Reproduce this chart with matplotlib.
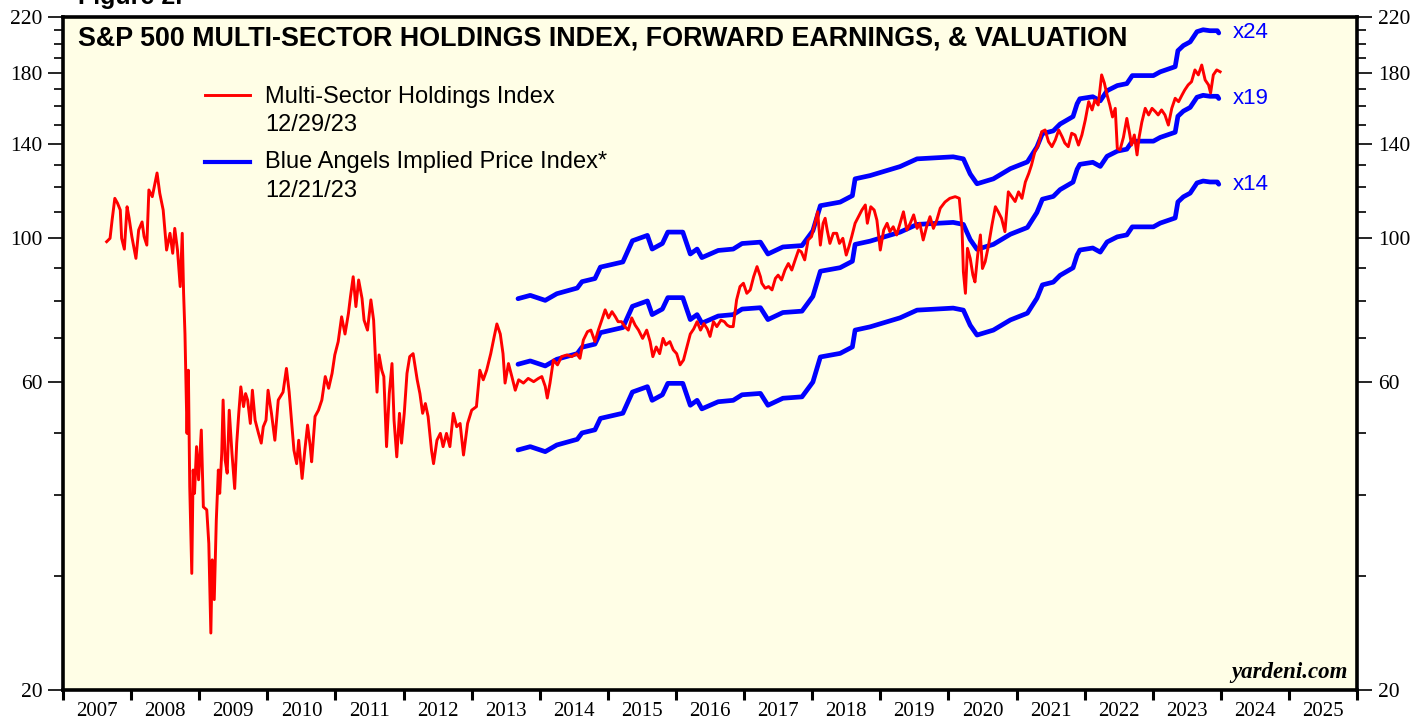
import matplotlib
matplotlib.use("Agg")
import matplotlib.pyplot as plt
from matplotlib.ticker import FixedLocator, FixedFormatter, NullFormatter

# Multi-Sector Holdings Index (red), by year
red_dates = [
    2007.64, 2007.69, 2007.72, 2007.76, 2007.80, 2007.84, 2007.86, 2007.90, 2007.94, 2007.97,
    2008.01, 2008.07, 2008.11, 2008.16, 2008.19, 2008.23, 2008.26, 2008.31, 2008.38, 2008.42,
    2008.47, 2008.52, 2008.57, 2008.61, 2008.64, 2008.68, 2008.72, 2008.75, 2008.77, 2008.79,
    2008.82, 2008.84, 2008.86, 2008.89, 2008.91, 2008.93, 2008.96, 2008.99,
    2009.03, 2009.06, 2009.11, 2009.14, 2009.17, 2009.19, 2009.22, 2009.25, 2009.28, 2009.30,
    2009.33, 2009.35, 2009.38, 2009.41, 2009.44, 2009.48, 2009.52, 2009.55, 2009.58, 2009.61,
    2009.65, 2009.68, 2009.71, 2009.75, 2009.78, 2009.82, 2009.87, 2009.91, 2009.94, 2009.98,
    2010.01, 2010.06, 2010.11, 2010.16, 2010.23, 2010.28, 2010.32, 2010.36, 2010.39, 2010.43,
    2010.46, 2010.51, 2010.55, 2010.59, 2010.63, 2010.65, 2010.70, 2010.75, 2010.80, 2010.85,
    2010.90, 2010.95, 2010.99,
    2011.04, 2011.09, 2011.14, 2011.19, 2011.22, 2011.26, 2011.30, 2011.34, 2011.39, 2011.42,
    2011.47, 2011.52, 2011.56, 2011.61, 2011.64, 2011.68, 2011.71, 2011.75, 2011.79, 2011.83,
    2011.86, 2011.90, 2011.94, 2011.97,
    2012.01, 2012.05, 2012.09, 2012.14, 2012.17, 2012.20, 2012.24, 2012.28, 2012.32, 2012.36,
    2012.41, 2012.44, 2012.49, 2012.54, 2012.58, 2012.63, 2012.68, 2012.73, 2012.78, 2012.83,
    2012.88, 2012.94,
    2013.00, 2013.07, 2013.12, 2013.17, 2013.22, 2013.28, 2013.33, 2013.37, 2013.42, 2013.46,
    2013.49, 2013.54, 2013.59, 2013.64, 2013.69, 2013.76, 2013.83, 2013.91, 2013.98,
    2014.03, 2014.08, 2014.11, 2014.15, 2014.20, 2014.26, 2014.32, 2014.40, 2014.47, 2014.54,
    2014.59, 2014.64, 2014.70, 2014.75, 2014.81, 2014.86, 2014.91, 2014.96,
    2015.01, 2015.06, 2015.11, 2015.15, 2015.20, 2015.25, 2015.30, 2015.35, 2015.40, 2015.45,
    2015.51, 2015.57, 2015.62, 2015.66, 2015.71, 2015.76, 2015.81, 2015.85, 2015.91, 2015.96,
    2016.01, 2016.06, 2016.11, 2016.16, 2016.21, 2016.26, 2016.31, 2016.36, 2016.41, 2016.46,
    2016.50, 2016.55, 2016.60, 2016.66, 2016.71, 2016.75, 2016.79, 2016.84, 2016.89, 2016.94,
    2016.99,
    2017.04, 2017.09, 2017.14, 2017.19, 2017.24, 2017.26, 2017.31, 2017.36, 2017.41, 2017.46,
    2017.50, 2017.55, 2017.60, 2017.65, 2017.70, 2017.75, 2017.80, 2017.84, 2017.89, 2017.94,
    2017.99,
    2018.04, 2018.08, 2018.12, 2018.16, 2018.19, 2018.22, 2018.26, 2018.31, 2018.36, 2018.40,
    2018.45, 2018.50, 2018.54, 2018.58, 2018.63, 2018.68, 2018.73, 2018.78, 2018.81, 2018.86,
    2018.91, 2018.95,
    2019.00, 2019.05, 2019.10, 2019.14, 2019.19, 2019.24, 2019.29, 2019.34, 2019.39, 2019.44,
    2019.49, 2019.54, 2019.58, 2019.63, 2019.68, 2019.73, 2019.78, 2019.83, 2019.88, 2019.95,
    2020.02, 2020.10, 2020.16, 2020.20, 2020.22, 2020.25, 2020.28, 2020.32, 2020.36, 2020.39,
    2020.43, 2020.47, 2020.50, 2020.54, 2020.59, 2020.64, 2020.69, 2020.73, 2020.78, 2020.83,
    2020.88, 2020.93, 2020.98,
    2021.03, 2021.08, 2021.13, 2021.18, 2021.22, 2021.27, 2021.32, 2021.37, 2021.42, 2021.47,
    2021.52, 2021.57, 2021.62, 2021.67, 2021.71, 2021.76, 2021.81, 2021.86, 2021.91, 2021.96,
    2022.01, 2022.06, 2022.11, 2022.15, 2022.20, 2022.25, 2022.29, 2022.33, 2022.37, 2022.41,
    2022.45, 2022.48, 2022.52, 2022.57, 2022.62, 2022.66, 2022.69, 2022.73, 2022.77, 2022.80,
    2022.84, 2022.89, 2022.94, 2022.99,
    2023.04, 2023.08, 2023.13, 2023.18, 2023.23, 2023.28, 2023.33, 2023.38, 2023.43, 2023.47,
    2023.52, 2023.57, 2023.62, 2023.67, 2023.72, 2023.77, 2023.82, 2023.85, 2023.89, 2023.94,
    2023.99,
]
red_values = [
    98.8, 100.0, 106.7, 115.3, 113.3, 110.6, 100.0, 96.2, 111.9, 107.4,
    100.6, 93.1, 103.0, 106.0, 100.6, 97.6, 118.8, 116.0, 126.2, 117.4,
    110.6, 95.9, 101.8, 94.8, 103.6, 95.9, 84.2, 101.8, 82.2, 71.1,
    49.9, 62.5, 41.3, 30.3, 43.8, 40.3, 47.6, 42.3,
    50.5, 38.4, 38.0, 33.7, 24.5, 31.8, 27.6, 36.6, 43.8, 40.3,
    46.5, 56.2, 45.4, 43.3, 54.2, 46.5, 41.0, 48.2, 53.6, 58.9,
    54.9, 57.5, 56.2, 51.7, 58.2, 52.3, 49.9, 48.2, 51.1, 52.3,
    58.2, 53.6, 48.7, 56.2, 57.8, 62.9, 57.8, 51.4, 47.0, 44.8,
    48.7, 42.5, 47.0, 51.4, 47.6, 45.1, 53.0, 54.2, 56.2, 61.1,
    58.6, 61.8, 66.0,
    69.2, 75.6, 71.1, 76.5, 81.2, 87.2, 78.4, 86.2, 80.7, 74.7,
    72.1, 80.3, 74.7, 57.8, 66.0, 62.5, 61.1, 47.6, 57.5, 64.0,
    52.3, 45.9, 53.6, 48.2,
    53.6, 61.8, 65.6, 66.3, 63.3, 60.4, 57.5, 53.6, 55.5, 53.0,
    47.0, 44.8, 48.7, 49.9, 47.6, 49.9, 47.6, 53.6, 51.1, 51.7,
    46.2, 51.7,
    54.2, 54.9, 62.5, 60.4, 62.5, 66.3, 70.4, 73.7, 71.1, 66.3,
    59.7, 64.0, 61.1, 58.2, 60.4, 59.7, 60.7, 60.0, 60.7,
    61.1, 59.0, 56.6, 59.7, 64.8, 63.7, 65.6, 66.0, 65.6, 66.3,
    65.2, 69.6, 71.7, 72.1, 69.2, 72.1, 74.7, 77.5,
    75.3, 77.0, 75.6, 74.3, 74.3, 73.0, 72.1, 75.3, 73.4, 72.1,
    70.0, 72.1, 69.2, 65.6, 67.9, 66.3, 70.0, 68.4, 69.2, 67.2,
    66.3, 63.7, 64.8, 67.9, 71.1, 72.4, 74.3, 72.1, 73.8, 72.4,
    70.5, 74.3, 73.0, 74.7, 74.3, 73.4, 73.0, 73.0, 80.3, 84.2,
    85.2,
    82.2, 83.2, 87.2, 90.4, 87.2, 85.2, 83.7, 84.2, 83.2, 86.7,
    87.7, 86.2, 89.3, 91.4, 89.3, 92.6, 95.9, 95.3, 92.6, 99.4,
    100.6,
    105.5, 109.9, 97.6, 105.5, 107.4, 103.0, 98.2, 101.8, 101.8, 98.2,
    100.0, 94.2, 97.1, 100.6, 105.5, 108.0, 110.6, 112.6, 105.5, 111.9,
    110.6, 106.7,
    95.9, 103.0, 105.5, 102.4, 104.2, 101.2, 105.5, 109.9, 103.0, 105.5,
    108.7, 103.6, 105.5, 99.4, 104.2, 108.0, 103.6, 106.7, 111.3, 113.8,
    115.3, 116.0, 115.3, 103.6, 88.8, 82.2, 96.5, 93.1, 87.7, 85.6,
    94.2, 101.2, 89.8, 92.0, 97.6, 104.9, 111.9, 110.0, 107.4, 102.4,
    118.0, 116.0, 114.0,
    118.0, 115.3, 122.2, 126.0, 129.8, 136.2, 139.4, 146.2, 147.1, 141.1,
    138.6, 142.0, 147.1, 143.6, 140.4, 138.6, 145.4, 144.5, 139.4, 144.5,
    152.4, 162.7, 158.0, 163.7, 160.8, 179.0, 173.9, 166.6, 160.8, 154.1,
    158.9, 137.8, 137.0, 143.3, 153.3, 145.4, 139.4, 144.5, 134.6, 143.3,
    151.2, 158.9, 155.2, 158.9,
    157.0, 155.2, 158.0, 155.2, 149.7, 158.9, 164.7, 162.7, 166.6, 169.6,
    172.7, 174.7, 182.2, 179.0, 185.4, 175.8, 172.7, 167.8, 179.0, 182.2,
    181.0,
]

# forward earnings behind the Blue Angels lines (price = earnings x multiple)
eps_dates = [
    2013.68, 2013.86, 2014.08, 2014.25, 2014.55, 2014.62, 2014.81, 2014.89,
    2015.22, 2015.36, 2015.58, 2015.65, 2015.80, 2015.88,
    2016.10, 2016.21, 2016.31, 2016.38, 2016.62, 2016.84, 2016.97,
    2017.24, 2017.35, 2017.57, 2017.85,
    2018.01, 2018.12, 2018.41, 2018.59, 2018.63, 2018.85,
    2019.29, 2019.54,
    2020.07, 2020.22, 2020.32, 2020.42, 2020.66, 2020.91,
    2021.16, 2021.30, 2021.38, 2021.54, 2021.64, 2021.83, 2021.89, 2021.93,
    2022.12, 2022.23, 2022.33, 2022.48, 2022.62, 2022.70,
    2023.01, 2023.11, 2023.33, 2023.37, 2023.45, 2023.55, 2023.65, 2023.74,
    2023.84, 2023.95, 2023.97,
]
eps_values = [
    3.36, 3.40, 3.34, 3.42, 3.49, 3.57, 3.61, 3.76,
    3.83, 4.13, 4.21, 4.01, 4.09, 4.26,
    4.26, 3.94, 4.01, 3.89, 3.99, 4.01, 4.09,
    4.11, 3.94, 4.04, 4.06,
    4.28, 4.68, 4.74, 4.85, 5.15, 5.21,
    5.38, 5.53,
    5.57, 5.53, 5.24, 5.06, 5.15, 5.34,
    5.47, 5.77, 6.05, 6.11, 6.26, 6.43, 6.73, 6.85,
    6.90, 6.80, 7.05, 7.18, 7.23, 7.44,
    7.44, 7.54, 7.68, 8.13, 8.28, 8.39, 8.70, 8.76,
    8.73, 8.73, 8.66,
]
multiples = [24, 19, 14]

years = list(range(2007, 2026))
y_major = [20, 60, 100, 140, 180, 220]
y_minor = [30, 40, 50, 70, 80, 90, 110, 120, 130, 150, 160, 170, 190, 200, 210]

title = "S&P 500 MULTI-SECTOR HOLDINGS INDEX, FORWARD EARNINGS, & VALUATION"
legend_red = ["Multi-Sector Holdings Index", "12/29/23"]
legend_blue = ["Blue Angels Implied Price Index*", "12/21/23"]

RED = "#FF0000"
BLUE = "#0000FF"
SERIF = "Liberation Serif"
SANS = "Liberation Sans"

fig = plt.figure(figsize=(14.14, 7.21), dpi=100)
ax = fig.add_axes([0.0446, 0.0430, 0.9151, 0.9334])
ax.set_facecolor("#FFFEE6")

# blue lines under the red one
for m in multiples:
    ax.plot(eps_dates, [e * m for e in eps_values], color=BLUE, lw=3.4,
            solid_capstyle="round", zorder=2)
    ax.text(2024.18, eps_values[-1] * m, "x%d" % m, color=BLUE, fontsize=16,
            family=SANS, va="center", ha="left")
ax.plot(red_dates, red_values, color=RED, lw=2.1, zorder=3)

ax.set_yscale("log")
ax.set_xlim(2007, 2026)
ax.set_ylim(20, 220)

ax.yaxis.set_major_locator(FixedLocator(y_major))
ax.yaxis.set_major_formatter(FixedFormatter([str(v) for v in y_major]))
ax.yaxis.set_minor_locator(FixedLocator(y_minor))
ax.yaxis.set_minor_formatter(NullFormatter())
ax.tick_params(axis="y", which="both", direction="out", left=True, right=True,
               labelleft=True, labelright=True, width=1.2, color="black")
ax.tick_params(axis="y", which="major", length=11, pad=4, labelsize=15.5,
               labelfontfamily=SERIF)
ax.tick_params(axis="y", which="minor", length=6.5)

ax.xaxis.set_major_locator(FixedLocator(list(range(2007, 2027))))
ax.xaxis.set_major_formatter(NullFormatter())
ax.xaxis.set_minor_locator(FixedLocator([y + 0.5 for y in years]))
ax.xaxis.set_minor_formatter(FixedFormatter([str(y) for y in years]))
ax.tick_params(axis="x", which="major", direction="out", length=7, width=2.2)
ax.tick_params(axis="x", which="minor", length=0, pad=8.5, labelsize=15,
               labelfontfamily=SERIF)

for s in ax.spines.values():
    s.set_linewidth(2.6)
    s.set_color("black")

ax.text(0.0116, 0.9688, title, transform=ax.transAxes, fontsize=19.4,
        fontweight="bold", family=SANS, va="center", ha="left")

# legend drawn by hand so the handle sits on the first line
ax.plot([0.1097, 0.1445], [0.8841, 0.8841], transform=ax.transAxes,
        color=RED, lw=2.1, clip_on=False)
ax.text(0.1561, 0.8811, legend_red[0], transform=ax.transAxes, fontsize=17,
        family=SANS, va="center")
ax.text(0.1561, 0.8395, legend_red[1], transform=ax.transAxes, fontsize=17,
        family=SANS, va="center")
ax.plot([0.1097, 0.1445], [0.7845, 0.7845], transform=ax.transAxes,
        color=BLUE, lw=3.0, clip_on=False)
ax.text(0.1561, 0.7845, legend_blue[0], transform=ax.transAxes, fontsize=17,
        family=SANS, va="center")
ax.text(0.1561, 0.7415, legend_blue[1], transform=ax.transAxes, fontsize=17,
        family=SANS, va="center")

ax.text(0.993, 0.0178, "yardeni.com", transform=ax.transAxes, fontsize=16.5,
        family=SERIF, fontweight="bold", style="italic", ha="right",
        va="baseline")

# "Figure 2." sits mostly above the top edge, as in the source image
fig.text(0.055, 0.9945, "Figure 2.", fontsize=18, fontweight="bold",
         family=SANS, va="baseline", ha="left")

fig.savefig("out.png", dpi=100)
